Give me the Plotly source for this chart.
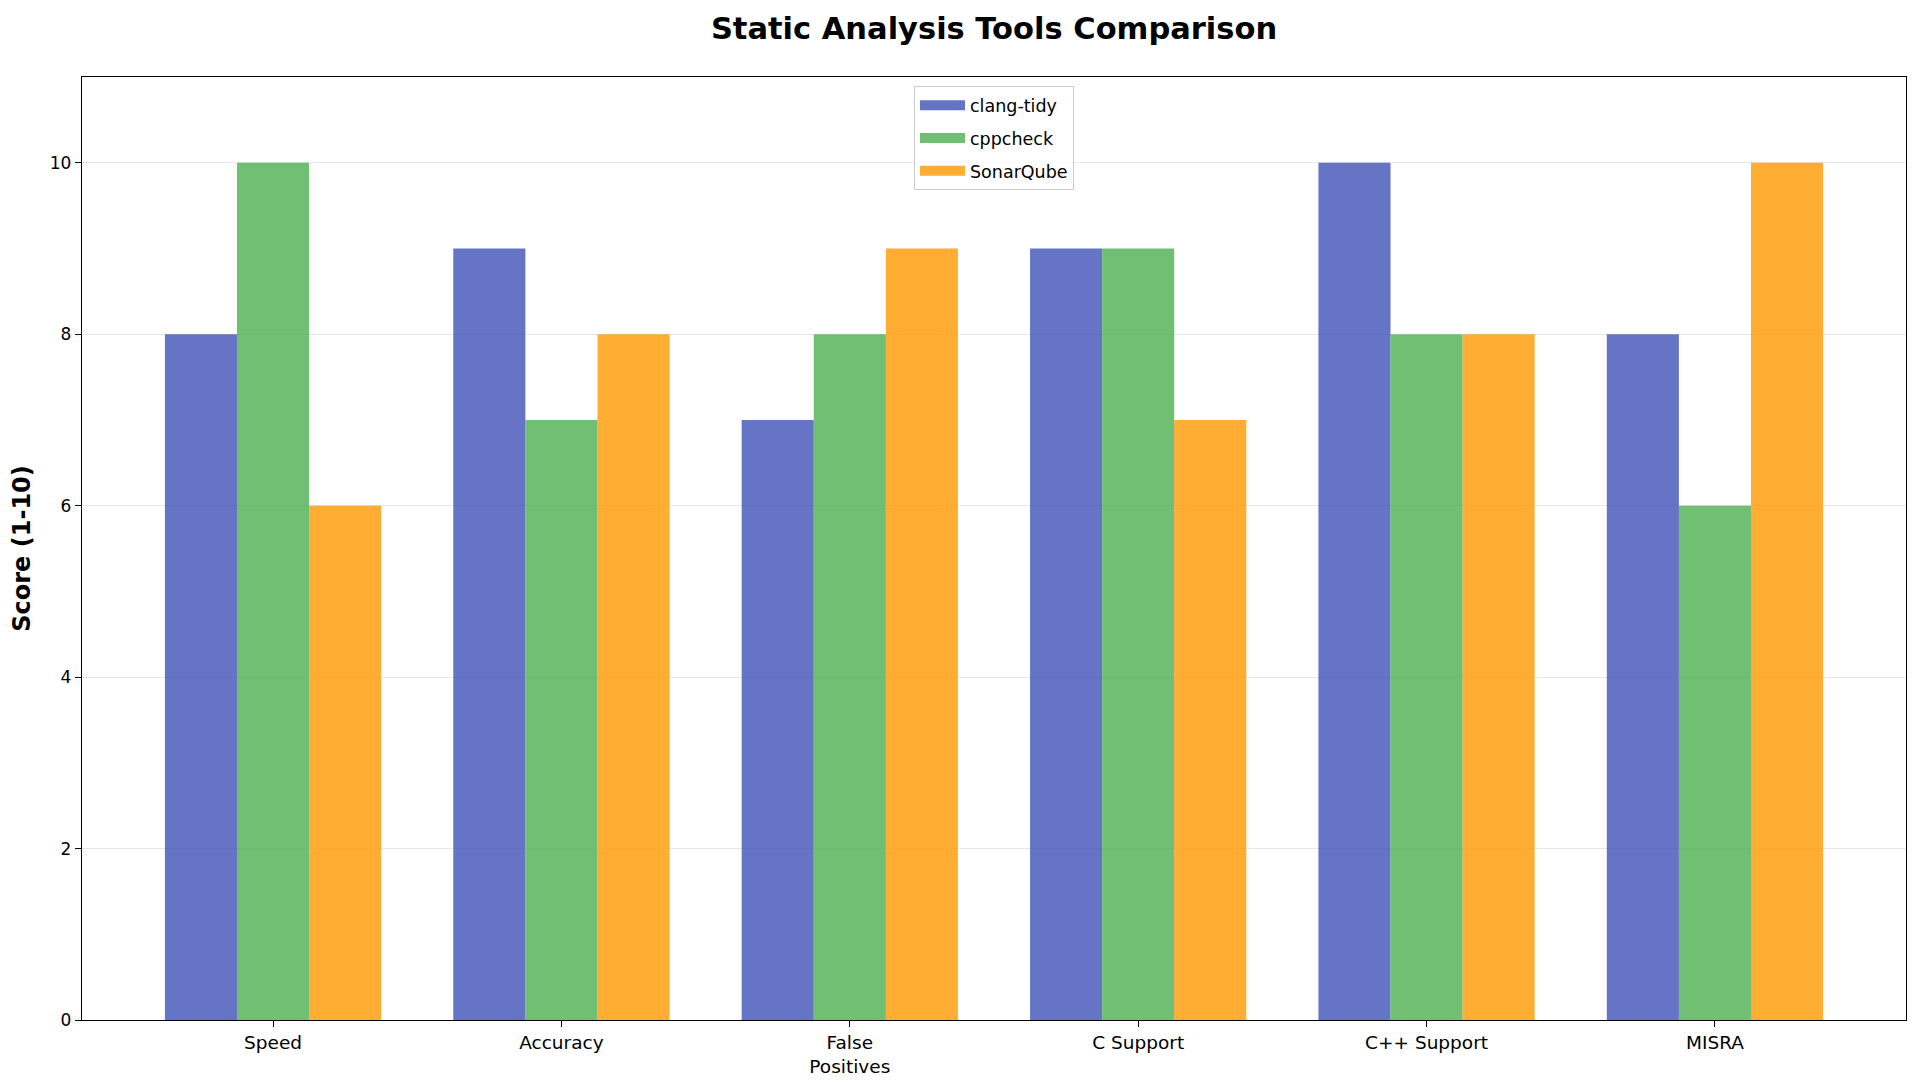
import plotly.graph_objects as go

categories = ["Speed", "Accuracy", "False<br>Positives", "C Support", "C++ Support", "MISRA"]
clang_tidy = [8, 9, 7, 9, 10, 8]
cppcheck = [10, 7, 8, 9, 8, 6]
sonarqube = [6, 8, 9, 7, 8, 10]
y_ticks = [0, 2, 4, 6, 8, 10]

series = [
    ("clang-tidy", clang_tidy, "#3F51B5"),
    ("cppcheck", cppcheck, "#4CAF50"),
    ("SonarQube", sonarqube, "#FF9800"),
]

font = "DejaVu Sans"
fig = go.Figure()
for name, vals, color in series:
    fig.add_trace(go.Bar(
        x=categories, y=vals, name=name, showlegend=False, legendgroup=name,
        marker=dict(color=color, opacity=0.8, line=dict(width=0)),
    ))
# legend entries drawn as wide rectangles (thick line swatches)
for name, vals, color in series:
    fig.add_trace(go.Scatter(
        x=[None], y=[None], mode="lines", name=name, legendgroup=name,
        line=dict(color=color, width=14), opacity=0.8, showlegend=True,
        hoverinfo="skip",
    ))

fig.update_layout(
    width=1920, height=1087,
    barmode="group", bargap=0.25, bargroupgap=0,
    plot_bgcolor="white", paper_bgcolor="white",
    margin=dict(l=74, r=22, t=69, b=75),
    font=dict(family=font, size=17, color="black"),
    title=dict(text="<b>Static Analysis Tools Comparison</b>", x=0.5, xanchor="center",
               xref="paper", y=1 - 20 / 1087, yanchor="middle", yref="container",
               font=dict(family=font, size=30.5, color="black")),
    legend=dict(x=0.5, xanchor="center", y=0.99, yanchor="top",
                bgcolor="rgba(255,255,255,0.8)", bordercolor="#cccccc", borderwidth=1,
                font=dict(family=font, size=17.5), tracegroupgap=7,
                itemwidth=45),
    showlegend=True,
)
fig.update_xaxes(
    range=[-0.6625, 5.6625],
    showline=True, linecolor="black", linewidth=1.3, mirror=True,
    ticks="outside", ticklen=6, tickcolor="black",
    showgrid=False, tickfont=dict(size=18.5),
)
fig.update_yaxes(
    range=[0, 11], tickvals=y_ticks,
    showline=True, linecolor="black", linewidth=1.3, mirror=True,
    ticks="outside", ticklen=6, tickcolor="black",
    showgrid=True, gridcolor="#e7e7e7", gridwidth=1,
    zeroline=False, tickfont=dict(size=17),
    title=dict(text="<b>Score (1-10)</b>", font=dict(family=font, size=24), standoff=12),
)
fig.write_html("out.html")
